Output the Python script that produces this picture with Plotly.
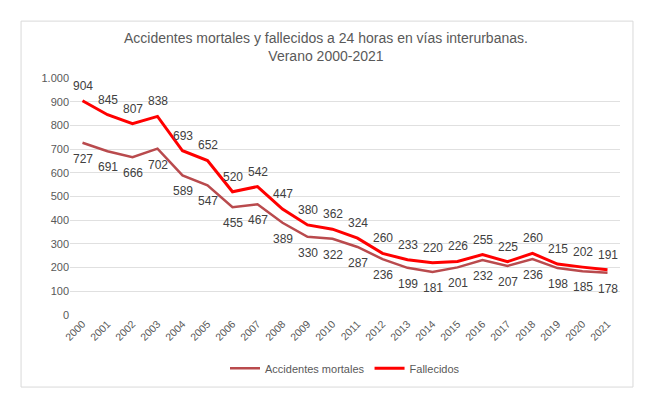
import plotly.graph_objects as go

years = [str(y) for y in range(2000, 2022)]
accidentes = [727, 691, 666, 702, 589, 547, 455, 467, 389, 330, 322, 287, 236, 199, 181, 201, 232, 207, 236, 198, 185, 178]
fallecidos = [904, 845, 807, 838, 693, 652, 520, 542, 447, 380, 362, 324, 260, 233, 220, 226, 255, 225, 260, 215, 202, 191]

col_acc = "#B94A4D"
col_fal = "#FF0000"
txt = "#595959"
font = "Liberation Sans"

fig = go.Figure()
fig.add_trace(go.Scatter(x=years, y=accidentes, mode="lines", name="Accidentes mortales",
                         line=dict(color=col_acc, width=2.5)))
fig.add_trace(go.Scatter(x=years, y=fallecidos, mode="lines", name="Fallecidos",
                         line=dict(color=col_fal, width=3)))

ann = []
for i, v in enumerate(fallecidos):
    ann.append(dict(x=i, y=v, text=str(v), showarrow=False, yshift=15, xref="x", yref="y",
                    font=dict(family=font, size=12, color="#404040")))
for i, v in enumerate(accidentes):
    ann.append(dict(x=i, y=v, text=str(v), showarrow=False, yshift=-16, xref="x", yref="y",
                    font=dict(family=font, size=12, color="#404040")))
ann.append(dict(x=0.465, y=1.13, xref="paper", yref="paper", showarrow=False,
                text="Accidentes mortales y fallecidos a 24 horas en vías interurbanas.<br>Verano 2000-2021",
                font=dict(family=font, size=14, color=txt), align="center", yanchor="middle"))

fig.update_layout(
    width=650, height=405,
    margin=dict(l=70, r=30, t=78, b=90),
    paper_bgcolor="white", plot_bgcolor="white",
    separators=",.",
    showlegend=True,
    legend=dict(orientation="h", x=0.5, xanchor="center", y=-0.225, yanchor="middle",
                font=dict(family=font, size=11, color=txt), traceorder="normal"),
    annotations=ann,
    shapes=[dict(type="rect", xref="paper", yref="paper", x0=-0.089, x1=1.0236, y0=-0.304, y1=1.24,
                 line=dict(color="#D9D9D9", width=1), fillcolor="rgba(0,0,0,0)", layer="below")],
    xaxis=dict(type="category", range=[-0.5, 21.5], showgrid=False, showline=False, zeroline=False,
               tickangle=-45, tickfont=dict(family=font, size=10.5, color=txt), ticks=""),
    yaxis=dict(range=[0, 1000], dtick=100, tickformat=",d", showgrid=True, gridcolor="#E0E0E0",
               gridwidth=1, zeroline=False, showline=False, ticks="",
               tickfont=dict(family=font, size=11, color=txt)),
)
fig.write_html("out.html")
